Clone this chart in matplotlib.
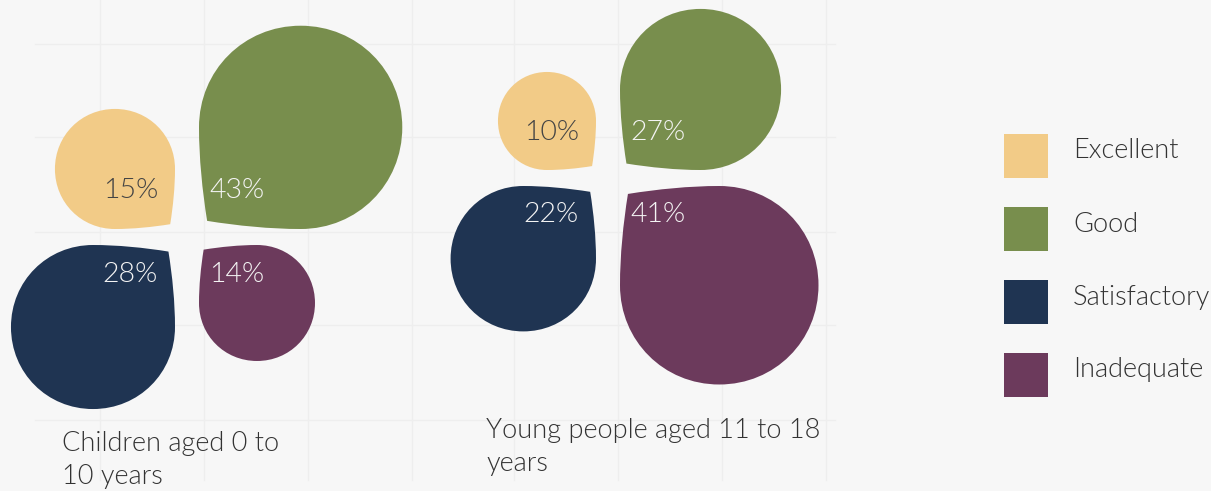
import matplotlib.pyplot as plt
import numpy as np
from matplotlib.path import Path
from matplotlib.patches import PathPatch, Rectangle

plt.rcParams['font.family'] = ['Lato', 'DejaVu Sans']
plt.rcParams['font.weight'] = 300

categories = ['Excellent', 'Good', 'Satisfactory', 'Inadequate']
colors = ['#F2CB87', '#788E4D', '#1F3452', '#6C3A5C']
text_colors = ['#444444', '#F4F4F4', '#F4F4F4', '#F4F4F4']

groups = ['Children aged 0 to\n10 years', 'Young people aged 11 to 18\nyears']
children = [15, 43, 28, 14]
young = [10, 27, 22, 41]
values = [children, young]

# layout in pixel units (y grows downward)
centers = [(187, 237), (608, 178)]
label_pos = [(62, 431), (486, 418)]
scale = 31.0            # petal side = scale * sqrt(percent)
hx, hy = 12, 8          # half gaps between petals
# quadrant directions: top-left, top-right, bottom-left, bottom-right
dirs = [(-1, -1), (1, -1), (-1, 1), (1, 1)]


def petal(cx, cy, s, dx, dy, k=0.56):
    """Teardrop petal with its sharp tip at (cx, cy), growing towards (dx, dy)."""
    r = s / 2
    b = 0.04 * s
    pts = [(b, b),
           (b + 0.15 * s, b * 0.4), (r - 0.15 * s, 0), (r, 0),
           (r + k * r, 0), (s, r - k * r), (s, r),
           (s, r + k * r), (r + k * r, s), (r, s),
           (r - k * r, s), (0, r + k * r), (0, r),
           (0, r - 0.15 * s), (b * 0.4, b + 0.15 * s), (b, b)]
    codes = [Path.MOVETO] + [Path.CURVE4] * 15
    verts = [(cx + dx * u, cy + dy * v) for u, v in pts]
    return Path(verts, codes)


fig = plt.figure(figsize=(12.11, 4.91), dpi=100)
fig.patch.set_facecolor('#F7F7F7')
ax = fig.add_axes([0, 0, 1, 1])
ax.set_facecolor('#F7F7F7')
ax.set_xlim(0, 1211)
ax.set_ylim(491, 0)
ax.axis('off')

# faint background grid
for gx in [100, 204, 308, 412, 514, 618, 722, 826]:
    ax.plot([gx, gx], [0, 480], color='#EEEEEE', lw=1, zorder=0)
for gy in [44, 137, 232, 325, 420]:
    ax.plot([35, 835], [gy, gy], color='#EEEEEE', lw=1, zorder=0)

for (gx, gy), vals, name, (lx, ly) in zip(centers, values, groups, label_pos):
    for v, (dx, dy), col, tcol in zip(vals, dirs, colors, text_colors):
        s = scale * np.sqrt(v)
        tx, ty = gx + dx * hx, gy + dy * hy
        ax.add_patch(PathPatch(petal(tx, ty, s, dx, dy), facecolor=col,
                               edgecolor='none', zorder=2))
        ha = 'right' if dx < 0 else 'left'
        xt = tx - 17 if dx < 0 else tx + 10
        yt = ty - 38 if dy < 0 else ty + 29
        ax.text(xt, yt, f'{v}%', ha=ha, va='center', fontsize=20.5,
                color=tcol, zorder=3)
    ax.text(lx, ly, name, ha='left', va='top', fontsize=19.5,
            color='#333333', linespacing=1.41)

# legend
for i, (cat, col) in enumerate(zip(categories, colors)):
    y = 156 + i * 73
    ax.add_patch(Rectangle((1004, y - 22), 44, 44, facecolor=col,
                           edgecolor='none'))
    ax.text(1073, y - 5, cat, ha='left', va='center', fontsize=19.5,
            color='#333333')

fig.savefig('out.png', dpi=100, facecolor=fig.get_facecolor())
